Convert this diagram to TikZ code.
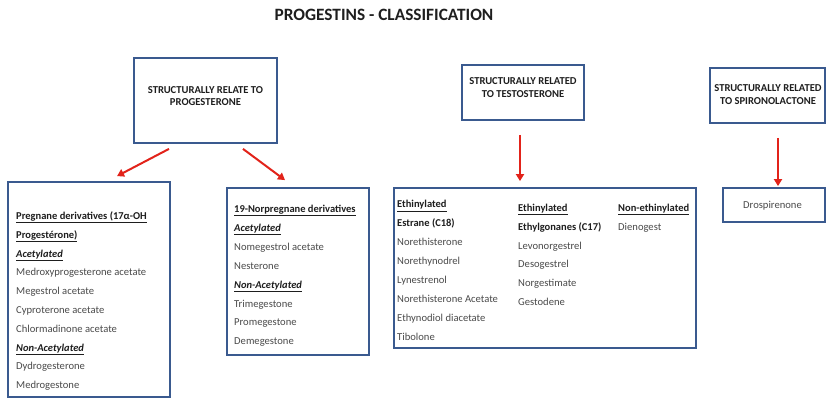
\documentclass[tikz,border=0pt]{standalone}
\usepackage{fontspec}
\setmainfont{Carlito}
\usetikzlibrary{arrows.meta}
\definecolor{boxblue}{HTML}{3A5A8F}
\definecolor{arrred}{HTML}{E2231A}
\definecolor{itemgray}{HTML}{4A4A4A}
\definecolor{headgray}{HTML}{1E1E1E}
\tikzset{
  box/.style={draw=boxblue, line width=1.8pt, inner sep=0pt, fill=white},
  hdr/.style={font=\bfseries\fontsize{10.6}{12.5}\selectfont, text=headgray, align=center, inner sep=0pt},
  item/.style={anchor=base west, inner sep=0pt, font=\fontsize{10.6}{12}\selectfont, text=itemgray},
  sub/.style={item, font=\bfseries\fontsize{10.5}{12}\selectfont, text=headgray},
  arr/.style={draw=arrred, line width=2pt, -{Triangle[length=7pt,width=8pt]}},
}
\begin{document}
\begin{tikzpicture}[x=1pt,y=-1pt]
\useasboundingbox (0,0) rectangle (826,398);
\node[font=\bfseries\fontsize{17.3}{20}\selectfont, text=headgray, inner sep=0pt] (title) at (384,15) {PROGESTINS - CLASSIFICATION};

% top boxes
\node[box, minimum width=143pt, minimum height=85pt] (A) at (205.5,100.5) {};
\node[hdr] (At) at (205.5,96) {STRUCTURALLY RELATE TO\\PROGESTERONE};
\node[box, minimum width=122pt, minimum height=55pt] (T) at (523,92.5) {};
\node[hdr] (Tt) at (523,87.5) {STRUCTURALLY RELATED\\TO TESTOSTERONE};
\node[box, minimum width=115pt, minimum height=55pt] (S) at (767.5,95.5) {};
\node[hdr] (St) at (768,94.5) {STRUCTURALLY RELATED\\TO SPIRONOLACTONE};

% lower boxes
\node[box, minimum width=162pt, minimum height=215pt] (P) at (89,289.5) {};
\node[box, minimum width=142pt, minimum height=167pt] (N) at (298,271.5) {};
\node[box, minimum width=302pt, minimum height=160pt] (L) at (545,268) {};
\node[box, minimum width=102pt, minimum height=34pt] (D) at (774,205) {};
\node[item] (d1) at (743,208.5) {Drospirenone};

% arrows
\draw[arr] ([xshift=-36.5pt,yshift=-5pt]A.south) -- ([xshift=28pt,yshift=5pt]P.north);
\draw[arr] ([xshift=37.5pt,yshift=-5pt]A.south) -- ([xshift=-13pt,yshift=7pt]N.north);
\draw[arr] ([xshift=-3pt,yshift=-14pt]T.south) -- ([xshift=-25pt,yshift=6pt]L.north);
\draw[arr] ([xshift=10.5pt,yshift=-14pt]S.south) -- ([xshift=4pt,yshift=1pt]D.north);

% pregnane list
\node[sub] (p1) at (16,219.5) {\underline{Pregnane derivatives (17α-OH}};
\node[sub] (p2) at (16,238.3) {\underline{Progestérone)}};
\node[sub] (p3) at (16,257.1) {\underline{\itshape Acetylated}};
\node[item] (p4) at (16,275.9) {Medroxyprogesterone acetate};
\node[item] (p5) at (16,294.7) {Megestrol acetate};
\node[item] (p6) at (16,313.5) {Cyproterone acetate};
\node[item] (p7) at (16,332.3) {Chlormadinone acetate};
\node[sub] (p8) at (16,351.1) {\underline{\itshape Non-Acetylated}};
\node[item] (p9) at (16,369.9) {Dydrogesterone};
\node[item] (p10) at (16,388.7) {Medrogestone};

% 19-norpregnane list
\node[sub] (n1) at (234,212.5) {\underline{19-Norpregnane derivatives}};
\node[sub] (n2) at (234,231.4) {\underline{\itshape Acetylated}};
\node[item] (n3) at (234,250.3) {Nomegestrol acetate};
\node[item] (n4) at (234,269.2) {Nesterone};
\node[sub] (n5) at (234,288.1) {\underline{\itshape Non-Acetylated}};
\node[item] (n6) at (234,307.0) {Trimegestone};
\node[item] (n7) at (234,325.9) {Promegestone};
\node[item] (n8) at (234,344.8) {Demegestone};

% testosterone list col 1
\node[sub] (a1) at (397,207.8) {\underline{Ethinylated}};
\node[sub] (a2) at (397,226.7) {Estrane (C18)};
\node[item] (a3) at (397,245.6) {Norethisterone};
\node[item] (a4) at (397,264.5) {Norethynodrel};
\node[item] (a5) at (397,283.4) {Lynestrenol};
\node[item] (a6) at (397,302.3) {Norethisterone Acetate};
\node[item] (a7) at (397,321.2) {Ethynodiol diacetate};
\node[item] (a8) at (397,340.1) {Tibolone};
% col 2
\node[sub] (b1) at (518,211.2) {\underline{Ethinylated}};
\node[sub] (b2) at (518,230.1) {Ethylgonanes (C17)};
\node[item] (b3) at (518,249.0) {Levonorgestrel};
\node[item] (b4) at (518,267.9) {Desogestrel};
\node[item] (b5) at (518,286.8) {Norgestimate};
\node[item] (b6) at (518,305.7) {Gestodene};
% col 3
\node[sub] (c1) at (618,211.2) {\underline{Non-ethinylated}};
\node[item] (c2) at (618,230.1) {Dienogest};
\end{tikzpicture}
\end{document}
